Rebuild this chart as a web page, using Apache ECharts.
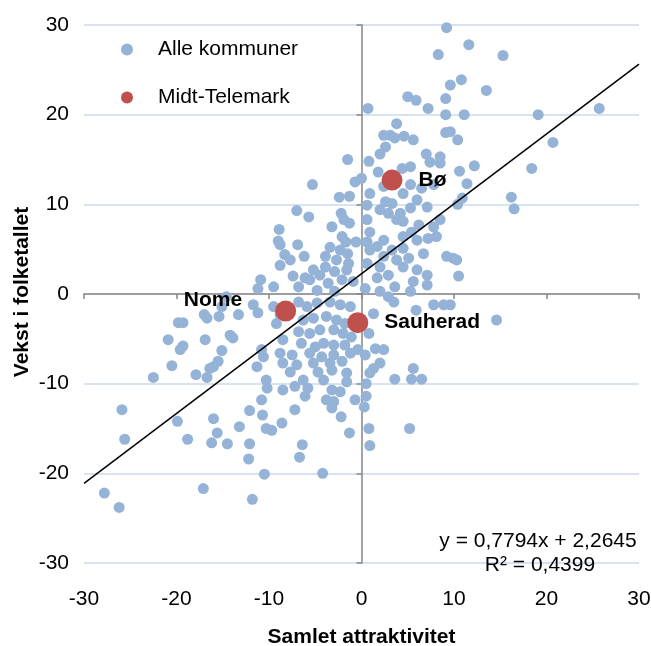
<!DOCTYPE html>
<html>
<head>
<meta charset="utf-8">
<script src="https://cdn.jsdelivr.net/npm/echarts@6/dist/echarts.min.js"></script>
<style>html,body{margin:0;padding:0;background:#fff}#c{width:651px;height:646px}</style>
</head>
<body>
<div id="c"></div>
<script>
// ---- data ----
const alleKommuner = [
[9.2,29.7],[8.3,26.7],[11.6,27.8],[15.3,26.6],[10.8,23.9],[9.6,23.3],[13.5,22.7],[5.0,22.0],[5.9,21.6],[9.1,21.8],[7.2,20.7],[0.7,20.7],[9.1,20.0],[11.1,20.0],[19.1,20.0],[25.7,20.7],[9.6,18.1],[10.4,17.2],[20.7,16.9],[9.1,18.0],[3.8,19.0],[2.4,17.7],[3.1,17.7],[3.6,17.4],[4.6,17.6],[5.6,17.2],[2.6,16.4],[2.0,15.6],[7.0,15.6],[8.5,15.3],[-1.5,15.0],[0.8,14.8],
[10.6,13.7],[12.2,14.3],[18.4,14.0],[11.4,12.3],[10.9,10.7],[10.4,10.0],[16.2,10.8],[16.5,9.5],[9.9,4.0],[10.3,3.8],[10.5,2.0],[14.6,-2.9],[9.6,-1.2],
[3.6,-9.5],[5.4,-9.5],[6.5,-9.5],[5.6,-8.3],[5.2,-15.0],[0.8,-15.0],[7.8,-1.2],[5.9,-1.8],[8.9,-1.2],[3.5,-0.9],[2.4,-6.2],[1.5,-6.1],[2.0,-7.7],[1.3,-8.3],[0.9,-8.8],[0.5,-10.0],[0.5,-11.4],[0.3,-12.6],[-0.7,-11.8],[-1.3,-15.5],[-2.2,-13.7],[0.4,-6.8],[-0.4,-6.2],[0.8,-4.4],[1.3,-2.2],
[-25.6,-16.2],[-27.8,-22.2],[-26.2,-23.8],[-18.8,-16.2],[-16.2,-16.6],[-14.5,-16.7],[-12.1,-16.7],[-12.2,-18.4],[-10.5,-20.1],[-17.1,-21.7],[-11.8,-22.9],[-6.4,-16.8],[-6.7,-18.2],[-4.2,-20.0],[0.9,-16.9],
[-25.9,-12.9],[-22.5,-9.3],[-20.5,-8.0],[-20.9,-5.1],[-19.8,-3.2],[-19.3,-3.2],[-19.6,-6.2],[-19.3,-5.8],[-19.9,-14.2],[-17.9,-9.0],[-16.7,-9.3],[-16.9,-5.1],[-17.0,-2.3],[-16.7,-2.7],[-15.4,-2.5],[-15.1,-1.4],[-13.3,-2.3],[-14.2,-4.6],[-13.9,-4.9],[-15.1,-6.3],[-15.5,-7.5],[-16.0,-8.1],[-16.4,-8.3],[-16.0,-13.9],[-15.6,-15.5],[-13.2,-14.8],[-12.1,-13.0],[-11.7,-1.2],[-11.2,-2.1],[-10.8,-6.2],[-10.6,-7.0],[-11.3,-8.1],[-10.3,-9.6],[-10.2,-10.5],[-10.8,-11.8],[-10.7,-13.5],[-10.3,-15.0],[-10.9,1.6],[-11.2,0.6],[-14.6,-0.3],
[-5.3,12.2],[-0.7,12.5],[0.0,12.9],[-2.4,10.8],[-1.3,10.9],[-7.0,9.3],[-5.7,8.6],[-8.9,7.2],[-9.0,5.9],[-8.8,5.5],[-6.9,5.5],[-8.3,4.4],[-7.7,3.8],[-6.2,4.2],[-8.8,3.2],[-7.4,2.0],[-9.5,0.8],[-6.1,1.8],[-3.2,7.5],[-2.2,9.0],[-1.9,8.3],[-1.3,7.9],[-2.1,6.4],[-1.7,5.8],[-0.6,5.8],[-3.4,5.2],[-2.3,4.9],[-1.5,4.5],[-3.9,4.2],[-2.7,3.8],[-1.4,3.4],[-5.2,2.7],[-3.9,3.0],[-4.5,2.1],[-2.9,2.5],[-1.6,2.7],[-5.6,1.6],[-3.6,1.2],[-2.1,1.6],[-0.9,1.4],[-6.8,0.8],[-4.8,0.4],[-2.9,0.3],
[0.6,3.4],[0.9,4.9],[0.6,5.8],[0.6,8.3],[0.9,6.9],[0.6,9.9],[0.9,11.2],[1.8,13.6],[2.4,12.0],[4.4,14.0],[5.3,14.2],[4.5,11.2],[2.6,10.3],[3.3,10.1],[2.0,9.4],[2.9,9.0],[4.2,9.0],[5.3,9.6],[7.1,9.7],[6.0,10.5],[7.4,14.7],[8.5,14.6],[5.3,12.2],[6.5,11.8],[7.8,12.2],[3.8,8.3],[4.5,8.1],[6.2,7.7],[5.4,6.9],[4.5,6.4],[6.0,6.0],[7.2,6.2],[2.4,6.0],[1.7,5.3],[3.3,4.9],[4.5,5.1],[2.4,4.2],[3.8,3.8],[5.1,4.0],[6.7,4.5],[8.1,6.4],[7.8,7.5],[8.5,8.3],[2.0,3.0],[4.5,3.0],[6.0,2.7],[7.1,2.1],[9.2,4.2],[2.9,2.1],[1.7,1.8],[5.6,1.4],[7.1,1.0],[3.6,0.8],[0.4,0.6],[2.0,0.3],[5.3,0.3],[2.9,-0.3],
[-9.5,-1.4],[-8.8,-2.3],[-9.2,-3.3],[-6.8,-0.9],[-5.9,-1.4],[-4.8,-1.0],[-3.4,-0.9],[-2.3,-1.2],[-1.2,-1.4],[-6.3,-2.9],[-5.2,-2.7],[-3.8,-2.5],[-2.7,-2.9],[-1.8,-3.3],[-6.8,-4.2],[-5.6,-4.4],[-4.5,-4.0],[-3.0,-4.0],[-2.0,-4.4],[-1.1,-4.8],[-8.5,-5.1],[-6.5,-5.5],[-5.0,-5.9],[-4.1,-5.5],[-3.0,-5.7],[-1.8,-5.7],[-8.8,-6.6],[-7.5,-6.8],[-5.6,-6.6],[-4.3,-7.0],[-3.0,-6.8],[-1.2,-6.6],[-8.5,-7.7],[-7.0,-7.9],[-5.2,-7.7],[-3.4,-7.7],[-2.1,-7.5],[-7.7,-8.7],[-4.7,-8.7],[-3.2,-8.5],[-1.6,-8.8],[-6.3,-9.6],[-4.1,-9.6],[-1.6,-9.8],[-8.5,-10.7],[-7.2,-10.3],[-5.8,-10.5],[-3.2,-10.7],[-2.3,-10.9],[-6.1,-11.4],[-3.8,-11.8],[-3.0,-12.0],[-7.2,-12.9],[-3.2,-12.7],[-8.6,-14.4],[-9.7,-15.2]
];
const midtNames = ['Bø','Nome','Sauherad'];
const midtX = [3.3,-8.2,-0.4];
const midtY = [12.7,-1.9,-3.2];
const trendCoef = [0.7794, 2.2645]; // slope, intercept
const trendRange = [-30, 30];
const eqText = ['y = 0,7794x + 2,2645', 'R² = 0,4399'];
const yTitle = 'Vekst i folketallet';

const FONT = 'Liberation Sans, Arial, sans-serif';
const FS = 21;

const labelPos = {
  'Bø': {position:'right', distance:16, offset:[0,0]},
  'Nome': {position:'left', distance:33, offset:[0,-11]},
  'Sauherad': {position:'right', distance:16, offset:[0,0]}
};
const midtData = midtNames.map((n,i)=>({
  name:n, value:[midtX[i], midtY[i]],
  label:Object.assign({show:true, formatter:n, fontWeight:'bold', fontSize:FS, fontFamily:FONT, color:'#000'}, labelPos[n])
}));
const trendData = trendRange.map(x=>[x, trendCoef[0]*x + trendCoef[1]]);

const chart = echarts.init(document.getElementById('c'), null, {renderer:'canvas'});
const axisColor = '#868686';
chart.setOption({
  animation:false,
  backgroundColor:'#fff',
  textStyle:{fontFamily:FONT},
  grid:{left:84, right:12, top:25, bottom:83, containLabel:false, outerBoundsMode:'none'},
  legend:{
    data:['Alle kommuner','Midt-Telemark'],
    orient:'vertical', left:121, top:39, padding:0,
    itemWidth:12, itemHeight:12, itemGap:27,
    icon:'circle',
    textStyle:{fontSize:FS, fontFamily:FONT, color:'#000', padding:[0,0,0,20], lineHeight:20}
  },
  xAxis:[
    {type:'value', min:-30, max:30, interval:10, position:'bottom',
     axisLine:{show:false, onZero:false}, axisTick:{show:false}, splitLine:{show:false},
     axisLabel:{fontSize:FS, color:'#000', margin:26, fontFamily:FONT},
     name:'Samlet attraktivitet', nameLocation:'middle', nameGap:64,
     nameTextStyle:{fontWeight:'bold', fontSize:FS, color:'#000', fontFamily:FONT}},
    {type:'value', min:-30, max:30, interval:10, position:'top',
     axisLine:{show:true, onZero:true, onZeroAxisIndex:0, lineStyle:{color:axisColor, width:1.5}},
     axisTick:{show:true, inside:true, length:5, lineStyle:{color:axisColor, width:1.5}},
     axisLabel:{show:false}, splitLine:{show:false}}
  ],
  yAxis:[
    {type:'value', min:-30, max:30, interval:10, position:'left',
     axisLine:{show:false, onZero:false}, axisTick:{show:false},
     splitLine:{show:true, lineStyle:{color:'#d9e2f0', width:2}},
     axisLabel:{fontSize:FS, color:'#000', margin:15, fontFamily:FONT}},
    {type:'value', min:-30, max:30, interval:10, position:'right',
     axisLine:{show:true, onZero:true, onZeroAxisIndex:0, lineStyle:{color:axisColor, width:1.5}},
     axisTick:{show:true, inside:true, length:5, lineStyle:{color:axisColor, width:1.5}},
     axisLabel:{show:false}, splitLine:{show:false}}
  ],
  series:[
    {name:'Alle kommuner', type:'scatter', data:alleKommuner, symbol:'circle', symbolSize:11,
     itemStyle:{color:'#95B3D7', opacity:1}, z:3},
    {name:'Trend', type:'line', data:trendData, symbol:'none', lineStyle:{color:'#000', width:1.5}, z:4, silent:true},
    {name:'Midt-Telemark', type:'scatter', data:midtData, symbol:'circle', symbolSize:21,
     itemStyle:{color:'#C0504D', opacity:1}, z:5}
  ],
  graphic:[
    {type:'text', x:538, y:541, style:{text:eqText[0], font:FS+'px '+FONT, fill:'#000', textAlign:'center', textVerticalAlign:'middle'}, z:10},
    {type:'text', x:540, y:565, style:{text:eqText[1], font:FS+'px '+FONT, fill:'#000', textAlign:'center', textVerticalAlign:'middle'}, z:10},
    {type:'text', x:22, y:292, rotation:Math.PI/2, style:{text:yTitle, font:'bold '+FS+'px '+FONT, fill:'#000', textAlign:'center', textVerticalAlign:'middle'}, z:10}
  ]
});
</script>
</body>
</html>
